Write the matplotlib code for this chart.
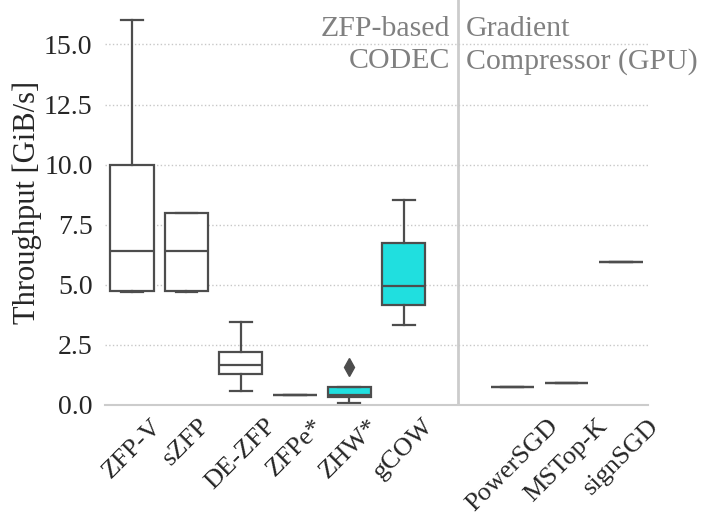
import matplotlib
matplotlib.use("Agg")
import matplotlib.pyplot as plt

plt.rcParams['font.family'] = ['Liberation Serif', 'DejaVu Serif']

categories = ["ZFP-V", "sZFP", "DE-ZFP", "ZFPe*", "ZHW*", "gCOW",
              "PowerSGD", "MSTop-K", "signSGD"]
positions = [0, 1, 2, 3, 4, 5, 7, 8, 9]
whislo = [4.70, 4.70, 0.60, 0.40, 0.10, 3.32, 0.74, 0.93, 5.97]
q1 = [4.76, 4.76, 1.28, 0.40, 0.33, 4.14, 0.74, 0.93, 5.97]
med = [6.40, 6.40, 1.67, 0.40, 0.42, 4.96, 0.74, 0.93, 5.97]
q3 = [10.00, 8.00, 2.22, 0.40, 0.76, 6.74, 0.74, 0.93, 5.97]
whishi = [16.00, 8.00, 3.47, 0.40, 0.76, 8.51, 0.74, 0.93, 5.97]
fliers = [[], [], [], [], [1.58], [], [], [], []]
highlight = [False, False, False, False, True, True, False, False, False]

edge = '#4d4d4d'
cyan = '#20dfdf'
txt = '#262626'

fig = plt.figure(figsize=(7.02, 5.18), dpi=100)
ax = fig.add_axes([105/702, 1 - 405/518, 543/702, 405/518])

stats = []
for i, c in enumerate(categories):
    stats.append(dict(label=c, whislo=whislo[i], q1=q1[i], med=med[i],
                      q3=q3[i], whishi=whishi[i], fliers=fliers[i]))

bp = ax.bxp(stats, positions=positions, widths=0.8, capwidths=0.4,
            patch_artist=True,
            boxprops=dict(edgecolor=edge, linewidth=1.6),
            whiskerprops=dict(color=edge, linewidth=1.6),
            capprops=dict(color=edge, linewidth=1.6),
            medianprops=dict(color=edge, linewidth=1.6),
            flierprops=dict(marker='d', markerfacecolor=edge,
                            markeredgecolor=edge, markersize=9))
for patch, h in zip(bp['boxes'], highlight):
    patch.set_facecolor(cyan if h else 'white')

ax.set_xlim(-0.5, 9.5)
ax.set_ylim(0, 16.85)
ax.set_yticks([0, 2.5, 5, 7.5, 10, 12.5, 15])
ax.set_yticklabels(['0.0', '2.5', '5.0', '7.5', '10.0', '12.5', '15.0'])
ax.set_xticks(positions)
ax.set_xticklabels(categories, rotation=45)
ax.tick_params(axis='both', length=0, colors=txt)
ax.tick_params(axis='x', pad=7, labelsize=19)
ax.tick_params(axis='y', pad=9, labelsize=20)

ax.set_axisbelow(True)
ax.yaxis.grid(True, linestyle=':', color='#c8c8c8', linewidth=1)
for s in ['left', 'right', 'top']:
    ax.spines[s].set_visible(False)
ax.spines['bottom'].set_color('#cccccc')
ax.spines['bottom'].set_linewidth(1.5)

ax.axvline(6, color='#cccccc', linewidth=2, zorder=0)

ax.set_ylabel('Throughput [GiB/s]', fontsize=22, color=txt, labelpad=1)

ax.annotate('ZFP-based\nCODEC', xy=(6, 1), xycoords=('data', 'axes fraction'),
            xytext=(-8, -16), textcoords='offset pixels', ha='right', va='top',
            fontsize=21.5, color='#808080', linespacing=1.28)
ax.annotate('Gradient\nCompressor (GPU)', xy=(6, 1), xycoords=('data', 'axes fraction'),
            xytext=(8, -16), textcoords='offset pixels', ha='left', va='top',
            fontsize=21.5, color='#808080', linespacing=1.28)

fig.savefig('out.png', dpi=100)
